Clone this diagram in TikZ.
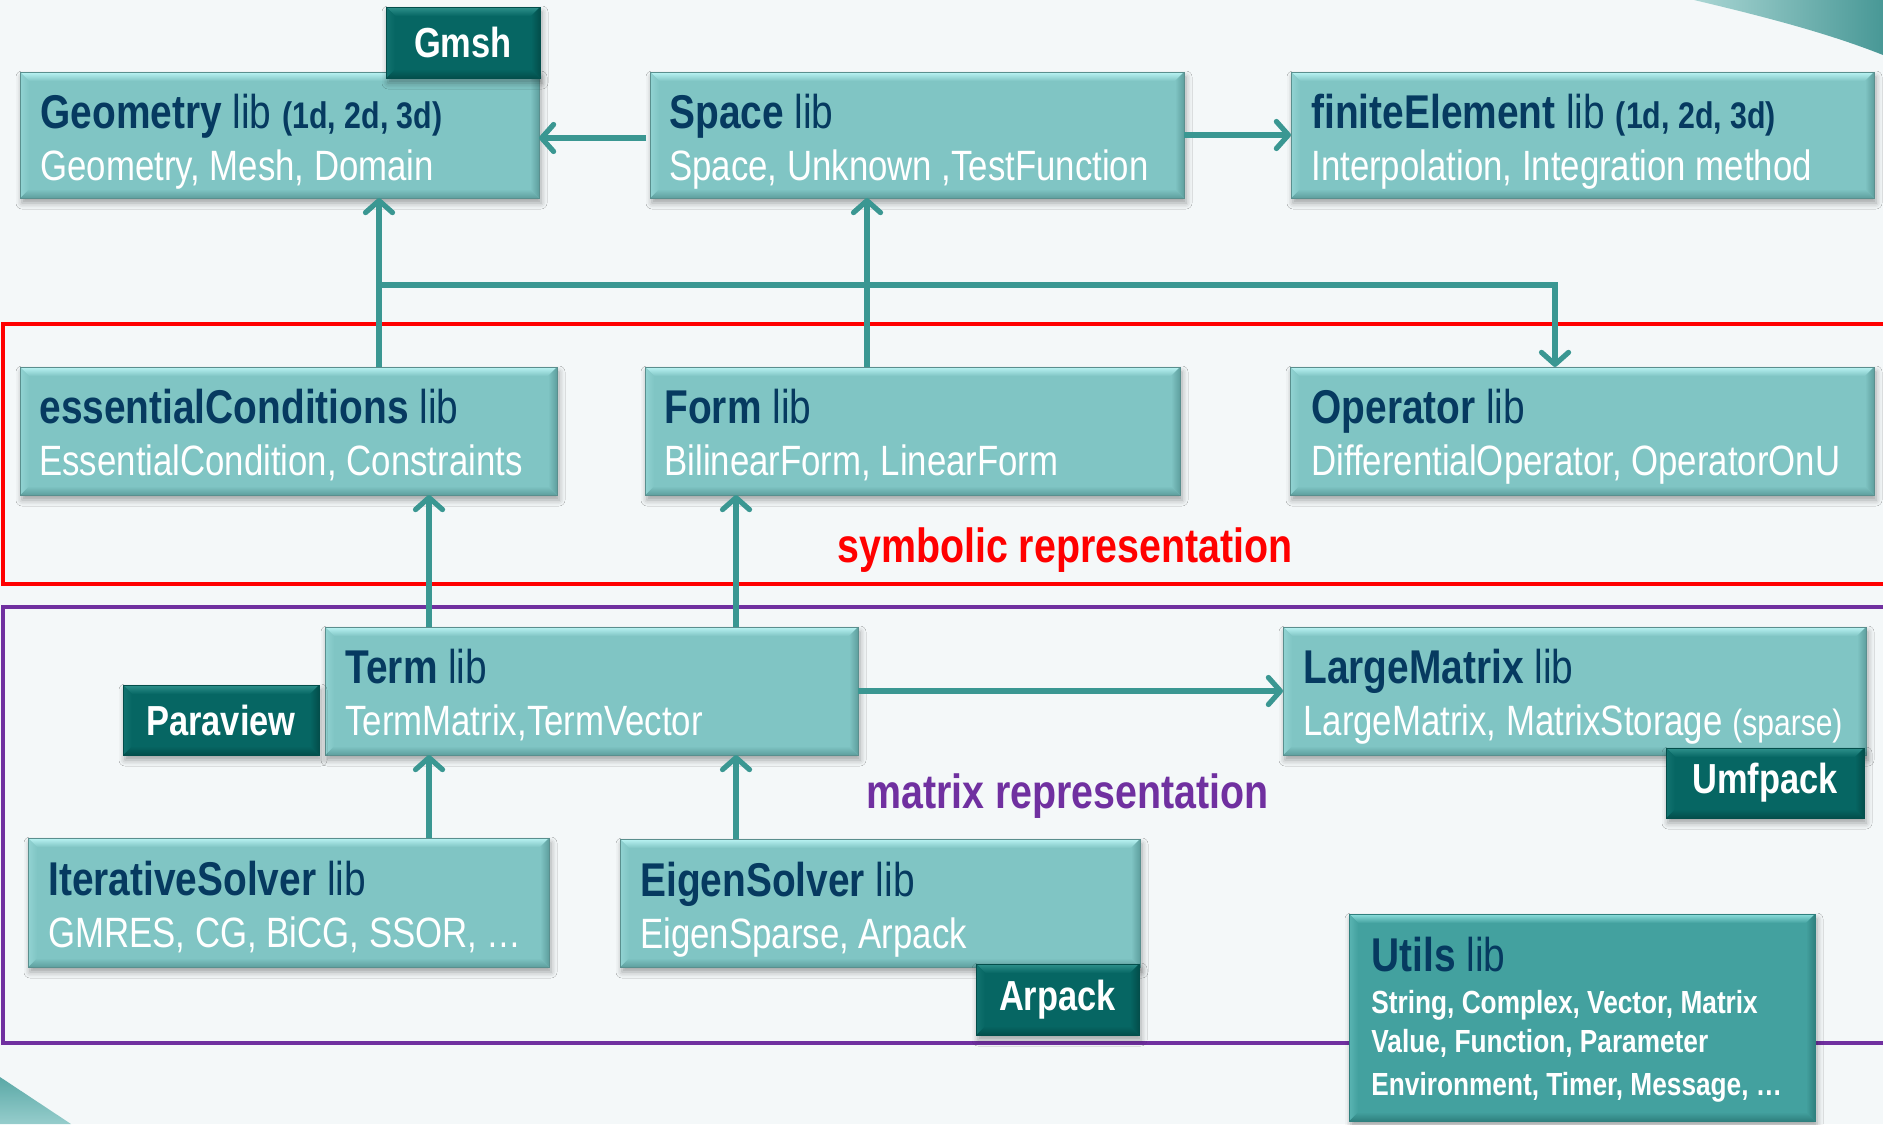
\documentclass[tikz,border=0pt]{standalone}
\usepackage{fontspec}
\setmainfont{Liberation Sans}[FakeStretch=0.82]
\usetikzlibrary{arrows.meta,shadows,shadows.blur,fit,calc}
\definecolor{bg}{HTML}{F4F8F9}
\definecolor{boxfill}{HTML}{80C5C4}
\definecolor{boxtop}{HTML}{BAF4F4}
\definecolor{boxbot}{HTML}{5E9F9E}
\definecolor{boxedge}{HTML}{5A8F8E}
\definecolor{darkfill}{HTML}{066663}
\definecolor{darktop}{HTML}{2E918C}
\definecolor{darkbot}{HTML}{034E4B}
\definecolor{utilfill}{HTML}{43A19F}
\definecolor{utiltop}{HTML}{8EE0DE}
\definecolor{utilbot}{HTML}{2F807E}
\definecolor{navy}{HTML}{063A60}
\definecolor{arrowc}{HTML}{3A9792}
\definecolor{purp}{HTML}{7030A0}
\begin{document}
\begin{tikzpicture}[x=0.5pt,y=-0.5pt,
  bevel/.style n args={3}{path picture={
    \path (path picture bounding box.north west) coordinate (bnw)
          (path picture bounding box.south east) coordinate (bse);
    \shade[top color=#1,bottom color=#2] (bnw) -- (bnw -| bse) -- ([xshift=-4.5pt,yshift=-4.5pt]bnw -| bse) -- ([xshift=4.5pt,yshift=-4.5pt]bnw) -- cycle;
    \shade[top color=#2,bottom color=#3] (bse) -- (bse -| bnw) -- ([xshift=4.5pt,yshift=4.5pt]bse -| bnw) -- ([xshift=-4.5pt,yshift=4.5pt]bse) -- cycle;
    \shade[left color=#2!70!#1,right color=#2] (bnw) -- (bse -| bnw) -- ([xshift=4.5pt,yshift=4.5pt]bse -| bnw) -- ([xshift=4.5pt,yshift=-4.5pt]bnw) -- cycle;
    \shade[left color=#2,right color=#3] (bse) -- (bnw -| bse) -- ([xshift=-4.5pt,yshift=-4.5pt]bnw -| bse) -- ([xshift=-4.5pt,yshift=4.5pt]bse) -- cycle;
  }},
  libbox/.style={draw=boxedge, line width=0.5pt, fill=boxfill, inner sep=0pt, outer sep=0pt,
    blur shadow={shadow xshift=1pt, shadow yshift=-2.5pt, shadow blur radius=3pt, shadow opacity=35},
    bevel={boxtop}{boxfill}{boxbot}},
  darkbox/.style={draw=darkbot, line width=0.5pt, fill=darkfill, inner sep=0pt, outer sep=0pt,
    blur shadow={shadow xshift=1pt, shadow yshift=-2.5pt, shadow blur radius=3pt, shadow opacity=35},
    bevel={darktop}{darkfill}{darkbot}},
  utilbox/.style={draw=utilbot, line width=0.5pt, fill=utilfill, inner sep=0pt, outer sep=0pt,
    blur shadow={shadow xshift=1pt, shadow yshift=-2.5pt, shadow blur radius=3pt, shadow opacity=35},
    bevel={utiltop}{utilfill}{utilbot}},
  ttl/.style={anchor=base west, inner sep=0pt, text=navy, font=\fontsize{23.7}{28}\selectfont},
  sub/.style={anchor=base west, inner sep=0pt, text=white, font=\fontsize{21.2}{25}\selectfont},
  darklbl/.style={inner sep=0pt, text=white, font=\bfseries\fontsize{21}{24}\selectfont},
  utl/.style={anchor=base west, inner sep=0pt, text=white, font=\bfseries\fontsize{16}{19}\selectfont},
  replbl/.style={anchor=base west, inner sep=0pt, font=\bfseries\fontsize{24}{28}\selectfont},
  arr/.style={draw=arrowc, line width=2.6pt, -{Straight Barb[length=6pt,width=13.5pt,round]}},
]
\useasboundingbox (0,0) rectangle (1883,1124);
\clip (0,0) rectangle (1883,1124);
\fill[bg] (0,0) rectangle (1883,1124);
% decorations
\shade[left color={rgb,255:red,170;green,214;blue,212}, right color={rgb,255:red,72;green,152;blue,150}]
  (1694,0) .. controls (1770,18) and (1830,34) .. (1883,55) -- (1883,0) -- cycle;
\shade[top color={rgb,255:red,90;green,168;blue,166}, bottom color={rgb,255:red,150;green,205;blue,204}]
  (0,1077) -- (71,1124) -- (0,1124) -- cycle;
% group frames
\draw[red, line width=2pt] (3,324) rectangle (1900,584);
\draw[purp, line width=2pt] (3,607) rectangle (1900,1043);
% lib boxes
\node[libbox, fit={(20,72)(539,198)}] (geo) {};
\node[libbox, fit={(650,72)(1184,198)}] (space) {};
\node[libbox, fit={(1291,72)(1874,198)}] (fe) {};
\node[libbox, fit={(20,367)(557,495)}] (ec) {};
\node[libbox, fit={(645,367)(1180,495)}] (form) {};
\node[libbox, fit={(1290,367)(1874,495)}] (op) {};
\node[libbox, fit={(325,627)(858,755)}] (term) {};
\node[libbox, fit={(1283,627)(1866,755)}] (lm) {};
\node[libbox, fit={(28,838)(549,967)}] (is) {};
\node[libbox, fit={(620,839)(1140,967)}] (es) {};
\node[utilbox, fit={(1349,914)(1815,1121)}] (utils) {};
% external packages
\node[darkbox, fit={(386,7)(540,78)}] (gmsh) {};
\node[darkbox, fit={(123,685)(319,755)}] (paraview) {};
\node[darkbox, fit={(1666,748)(1864,818)}] (umfpack) {};
\node[darkbox, fit={(976,964)(1139,1035)}] (arpack) {};
\node[darklbl] (gmshT) at (gmsh.center) {Gmsh};
\node[darklbl] (paraviewT) at (paraview.center) {Paraview};
\node[darklbl] (umfpackT) at (umfpack.center) {Umfpack};
\node[darklbl] (arpackT) at (arpack.center) {Arpack};
% connectors
\coordinate (jA) at (379,285);
\coordinate (jB) at (1555,285);
\coordinate (xF) at (867,285);
\coordinate (xL) at (429,700);
\coordinate (xR) at (736,700);
\coordinate (yG) at (600,138);
\draw[arr] ([xshift=-2pt]space.west |- yG) -- (geo.east |- yG);
\draw[arr] (space.east) -- (fe.west);
\draw[arr] (ec.north -| jA) -- (geo.south -| jA);
\draw[arr] (jA) -- (jB) -- (op.north -| jB);
\draw[arr] (form.north -| xF) -- (space.south -| xF);
\draw[arr] (term.north -| xL) -- (ec.south -| xL);
\draw[arr] (term.north -| xR) -- (form.south -| xR);
\draw[arr] (term.east) -- (lm.west);
\draw[arr] (is.north -| xL) -- (term.south -| xL);
\draw[arr] (es.north -| xR) -- (term.south -| xR);
% texts
\node[ttl] (geoT) at (40,128) {\textbf{Geometry} lib {\bfseries\fontsize{18.5}{22}\selectfont (1d, 2d, 3d)}};
\node[sub] (geoS) at (40,180) {Geometry, Mesh, Domain};
\node[ttl] (spaceT) at (669,128) {\textbf{Space} lib};
\node[sub] (spaceS) at (669,180) {Space, Unknown ,TestFunction};
\node[ttl] (feT) at (1311,128) {\textbf{finiteElement} lib {\bfseries\fontsize{18.5}{22}\selectfont (1d, 2d, 3d)}};
\node[sub] (feS) at (1311,180) {Interpolation, Integration method};
\node[ttl] (ecT) at (39,423) {\textbf{essentialConditions} lib};
\node[sub] (ecS) at (39,475) {EssentialCondition, Constraints};
\node[ttl] (formT) at (664,423) {\textbf{Form} lib};
\node[sub] (formS) at (664,475) {BilinearForm, LinearForm};
\node[ttl] (opT) at (1311,423) {\textbf{Operator} lib};
\node[sub] (opS) at (1311,475) {DifferentialOperator, OperatorOnU};
\node[ttl] (termT) at (345,683) {\textbf{Term} lib};
\node[sub] (termS) at (345,735) {TermMatrix,TermVector};
\node[ttl] (lmT) at (1303,683) {\textbf{LargeMatrix} lib};
\node[sub] (lmS) at (1303,735) {LargeMatrix, MatrixStorage {\fontsize{18.3}{22}\selectfont (sparse)}};
\node[ttl] (isT) at (48,895) {\textbf{IterativeSolver} lib};
\node[sub] (isS) at (48,947) {GMRES, CG, BiCG, SSOR, …};
\node[ttl] (esT) at (640,896) {\textbf{EigenSolver} lib};
\node[sub] (esS) at (640,948) {EigenSparse, Arpack};
\node[ttl] (utilsT) at (1371,971) {\textbf{Utils} lib};
\node[utl] (u1) at (1371,1013) {String, Complex, Vector, Matrix};
\node[utl] (u2) at (1371,1052) {Value, Function, Parameter};
\node[utl] (u3) at (1371,1095) {Environment, Timer, Message, …};
\node[replbl, text=red] (symb) at (837,562) {symbolic representation};
\node[replbl, text=purp] (matr) at (866,808) {matrix representation};
\end{tikzpicture}
\end{document}
